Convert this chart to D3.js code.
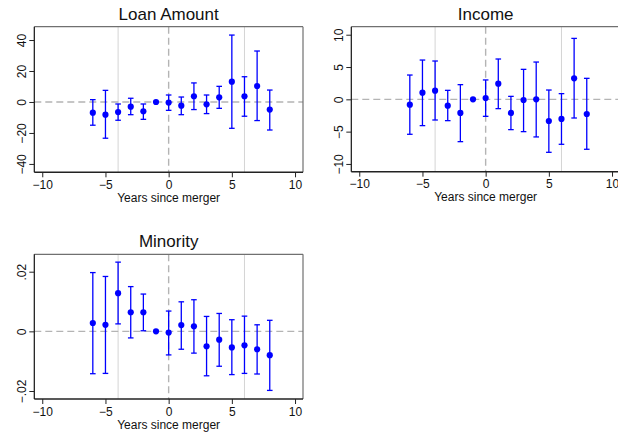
<!DOCTYPE html>
<html>
<head>
<meta charset="utf-8">
<script src="https://cdn.jsdelivr.net/npm/d3@7/dist/d3.min.js"></script>
<style>
  html, body { margin: 0; padding: 0; background: #fff; }
  svg { display: block; font-family: "Liberation Sans", Arial, Helvetica, sans-serif; }
</style>
</head>
<body>
<svg id="chart" width="618" height="433"></svg>
<script>
// Event-study estimates by year relative to the merger (year -1 is the omitted base year)
const years = [-6, -5, -4, -3, -2, -1, 0, 1, 2, 3, 4, 5, 6, 7, 8];

const loanEst = [-6.9, -8.2, -6.5, -3.0, -6.0, 0, -0.4, -2.4, 3.7, -1.5, 3.0, 13.1, 3.7, 10.3, -4.9];
const loanLo  = [-15.0, -23.4, -11.8, -8.2, -11.2, null, -5.4, -8.2, -4.9, -7.5, -4.1, -17.0, -9.2, -12.0, -18.1];
const loanHi  = [1.5, 7.5, -1.3, 2.4, -1.3, null, 4.5, 3.2, 12.3, 4.5, 10.1, 43.2, 16.3, 32.9, 7.7];

const incomeEst = [-0.82, 1.03, 1.34, -0.98, -2.11, 0, 0.2, 2.42, -2.11, -0.1, 0.0, -3.35, -3.04, 3.25, -2.27];
const incomeLo  = [-5.41, -4.07, -3.2, -3.3, -6.55, null, -2.63, -1.44, -4.69, -5.0, -5.82, -8.2, -6.96, -2.89, -7.73];
const incomeHi  = [3.76, 6.08, 5.93, 1.39, 2.27, null, 3.0, 6.24, 0.46, 4.64, 5.77, 1.44, 0.88, 9.43, 3.25];

const minorityEst = [0.0028, 0.0022, 0.0128, 0.0064, 0.0064, 0, -0.0004, 0.0021, 0.0017, -0.0050, -0.0028, -0.0054, -0.0047, -0.0060, -0.0080];
const minorityLo  = [-0.0142, -0.0141, 0.0025, -0.0022, 0.0002, null, -0.0079, -0.0060, -0.0073, -0.0149, -0.0117, -0.0145, -0.0141, -0.0143, -0.0198];
const minorityHi  = [0.0197, 0.0184, 0.0232, 0.0150, 0.0125, null, 0.0068, 0.0099, 0.0106, 0.0050, 0.0060, 0.0039, 0.0051, 0.0022, 0.0037];

// Axis ticks
const xTicks = [-10, -5, 0, 5, 10];
const loanTicks = [-40, -20, 0, 20, 40];
const incomeTicks = [-10, -5, 0, 5, 10];
const minorityTicks = [-0.02, 0, 0.02];

// Vertical marker lines
const eventYear = 0;
const markerYears = [-4, 6];

const xDomain = [-10.63, 10.63];
const minus = s => s.replace("-", "\u2212");

const svg = d3.select("#chart");

function panel(cfg) {
  const { left, top, width, height, title, est, lo, hi, yDomain, yTicks, yFmt } = cfg;
  const x = d3.scaleLinear().domain(xDomain).range([left, left + width]);
  const y = d3.scaleLinear().domain(yDomain).range([top + height, top]);
  const g = svg.append("g");

  // light vertical marker lines
  g.selectAll("line.marker").data(markerYears).join("line")
    .attr("x1", d => x(d)).attr("x2", d => x(d))
    .attr("y1", top).attr("y2", top + height)
    .attr("stroke", "#d4d4d4").attr("stroke-width", 1);

  // dashed reference lines at zero
  g.append("line")
    .attr("x1", left).attr("x2", left + width)
    .attr("y1", y(0)).attr("y2", y(0))
    .attr("stroke", "#b4b4b4").attr("stroke-width", 1.4)
    .attr("stroke-dasharray", "7,4");
  g.append("line")
    .attr("x1", x(eventYear)).attr("x2", x(eventYear))
    .attr("y1", top).attr("y2", top + height)
    .attr("stroke", "#b4b4b4").attr("stroke-width", 1.4)
    .attr("stroke-dasharray", "7,4");

  // frame: gray top/right, dark axes left/bottom
  g.append("line").attr("x1", left).attr("x2", left + width).attr("y1", top).attr("y2", top)
    .attr("stroke", "#707070").attr("stroke-width", 1.2);
  g.append("line").attr("x1", left + width).attr("x2", left + width).attr("y1", top).attr("y2", top + height)
    .attr("stroke", "#707070").attr("stroke-width", 1.2);

  const rows = years.map((yr, i) => ({ yr, est: est[i], lo: lo[i], hi: hi[i] }));
  const bars = rows.filter(d => d.lo !== null);
  const cap = 2.8;

  // confidence intervals with caps
  const eb = g.selectAll("g.eb").data(bars).join("g")
    .attr("stroke", "#0000ff").attr("stroke-width", 1.3);
  eb.append("line").attr("x1", d => x(d.yr)).attr("x2", d => x(d.yr))
    .attr("y1", d => y(d.lo)).attr("y2", d => y(d.hi));
  eb.append("line").attr("x1", d => x(d.yr) - cap).attr("x2", d => x(d.yr) + cap)
    .attr("y1", d => y(d.lo)).attr("y2", d => y(d.lo));
  eb.append("line").attr("x1", d => x(d.yr) - cap).attr("x2", d => x(d.yr) + cap)
    .attr("y1", d => y(d.hi)).attr("y2", d => y(d.hi));

  // point estimates
  g.selectAll("circle").data(rows).join("circle")
    .attr("cx", d => x(d.yr)).attr("cy", d => y(d.est))
    .attr("r", 3.1).attr("fill", "#0000ff");

  // axes
  const xAxis = g.append("g").attr("transform", `translate(0,${top + height})`)
    .call(d3.axisBottom(x).tickValues(xTicks).tickSize(5).tickPadding(3)
      .tickFormat(d => minus(String(d))));
  xAxis.select(".domain").attr("stroke", "#222").attr("stroke-width", 1.6)
    .attr("d", `M${left},0H${left + width}`);
  xAxis.selectAll(".tick line").attr("stroke", "#222");
  xAxis.selectAll("text").attr("font-size", 12).attr("fill", "#111")
    .attr("font-family", "Liberation Sans, Arial, sans-serif");

  const yAxis = g.append("g").attr("transform", `translate(${left},0)`)
    .call(d3.axisLeft(y).tickValues(yTicks).tickSize(5).tickPadding(3).tickFormat(yFmt));
  yAxis.select(".domain").attr("stroke", "#111").attr("stroke-width", 1.2)
    .attr("d", `M0,${top}V${top + height}`);
  yAxis.selectAll(".tick line").attr("stroke", "#222");
  yAxis.selectAll(".tick text")
    .attr("font-size", 12).attr("fill", "#111")
    .attr("font-family", "Liberation Sans, Arial, sans-serif")
    .attr("x", null).attr("dy", null)
    .attr("text-anchor", "middle")
    .attr("transform", "translate(-8,0) rotate(-90)");

  // title and x label
  g.append("text").attr("x", left + width / 2).attr("y", top - 7)
    .attr("text-anchor", "middle").attr("font-size", 17).attr("fill", "#111")
    .text(title);
  g.append("text").attr("x", x(0)).attr("y", top + height + 29.5)
    .attr("text-anchor", "middle").attr("font-size", 12).attr("fill", "#111")
    .text("Years since merger");
}

const fmtInt = d => minus(String(d));
const fmtDec = d => d === 0 ? "0" : minus(String(d).replace("0.", "."));

panel({ left: 34.3, top: 26.7, width: 268.7, height: 145.6, title: "Loan Amount",
  est: loanEst, lo: loanLo, hi: loanHi, yDomain: [-45.4, 48.6], yTicks: loanTicks, yFmt: fmtInt });
panel({ left: 351.3, top: 26.7, width: 268.7, height: 145.0, title: "Income",
  est: incomeEst, lo: incomeLo, hi: incomeHi, yDomain: [-11.2, 11.24], yTicks: incomeTicks, yFmt: fmtInt });
panel({ left: 34.3, top: 254.3, width: 268.7, height: 144.7, title: "Minority",
  est: minorityEst, lo: minorityLo, hi: minorityHi, yDomain: [-0.02268, 0.02583], yTicks: minorityTicks, yFmt: fmtDec });
</script>
</body>
</html>
